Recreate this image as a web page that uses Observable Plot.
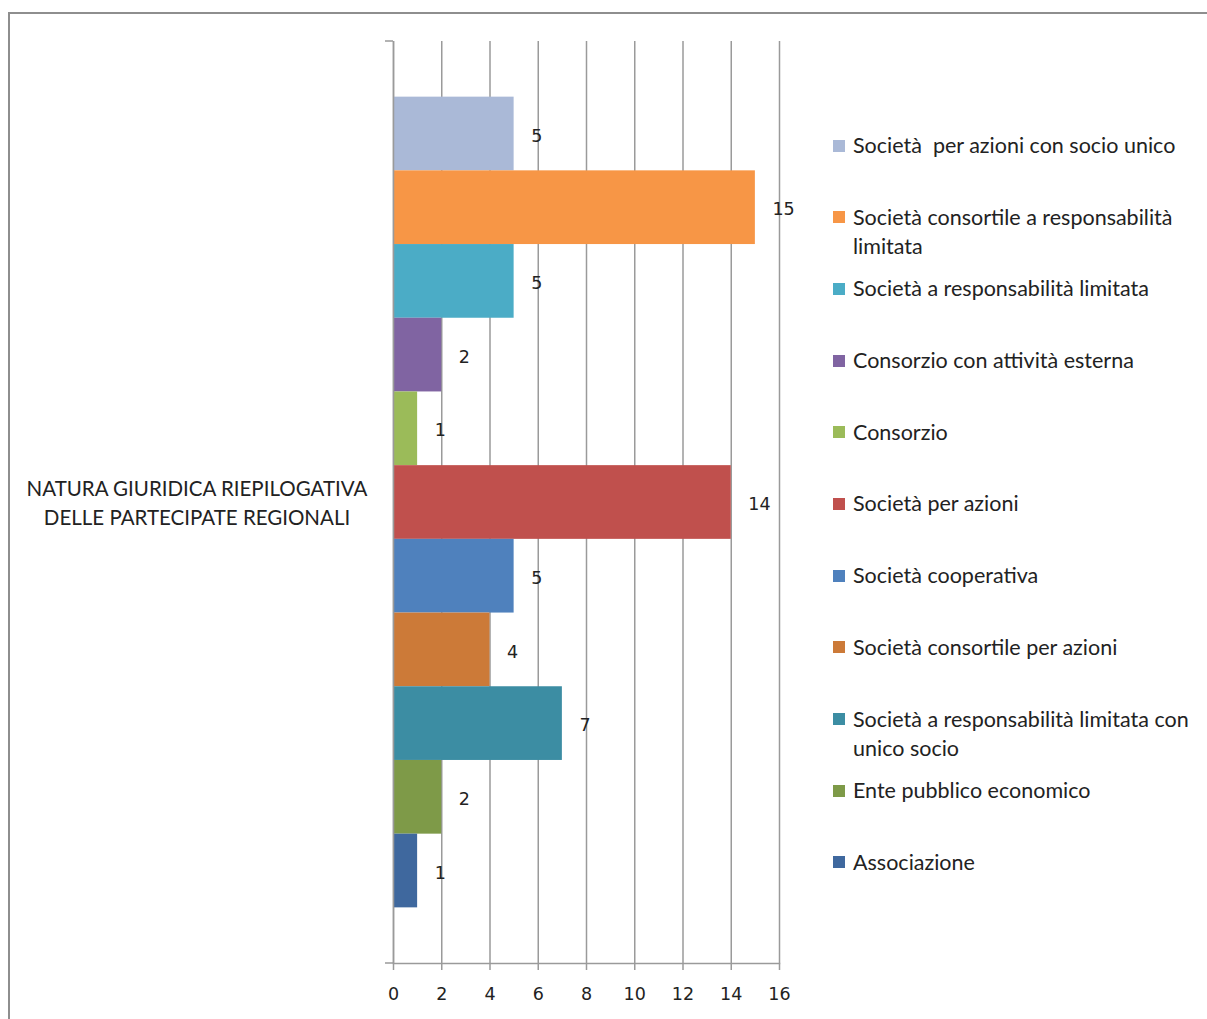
<!DOCTYPE html>
<html>
<head>
<meta charset="utf-8">
<script src="https://cdn.jsdelivr.net/npm/d3@7"></script>
<script src="https://cdn.jsdelivr.net/npm/@observablehq/plot@0.6"></script>
<style>
  html, body { margin: 0; padding: 0; background: #fff; overflow: hidden; }
  #wrap { position: relative; width: 1207px; height: 1019px; overflow: hidden; }
  #frame { position: absolute; left: 8px; top: 12px; width: 1207px; height: 1019px;
           border-top: 2px solid #8e8e8e; border-left: 2px solid #8e8e8e; box-sizing: border-box; }
  #chart { position: absolute; left: 0; top: 0; }
  #cat { position: absolute; left: 17px; top: 474px; width: 360px; text-align: center;
         font-family: Lato, sans-serif; font-size: 20.5px; line-height: 29px; color: #222; }
  #legend { position: absolute; left: 833px; top: 131px; width: 374px;
            font-family: Lato, sans-serif; font-size: 21.5px; line-height: 29px; color: #222; }
  .item { position: relative; height: 71.7px; padding-left: 20px; box-sizing: border-box; white-space: pre-wrap; }
  .sw { position: absolute; left: 0; top: 8.5px; width: 12px; height: 12px; }
</style>
</head>
<body>
<div id="wrap">
  <div id="frame"></div>
  <div id="chart"></div>
  <div id="cat"></div>
  <div id="legend"></div>
</div>
<script>
const categoryLabel = ["NATURA GIURIDICA RIEPILOGATIVA", "DELLE PARTECIPATE REGIONALI"];
const series = [
  "Società  per azioni con socio unico",
  "Società consortile a responsabilità limitata",
  "Società a responsabilità limitata",
  "Consorzio con attività esterna",
  "Consorzio",
  "Società per azioni",
  "Società cooperativa",
  "Società consortile per azioni",
  "Società a responsabilità limitata con unico socio",
  "Ente pubblico economico",
  "Associazione"
];
const values = [5, 15, 5, 2, 1, 14, 5, 4, 7, 2, 1];
const colors = ["#AAB9D7", "#F79646", "#4BACC6", "#8064A2", "#9BBB59", "#C0504D",
                "#4F81BD", "#CC7A38", "#3C8DA3", "#7E9A48", "#3F689E"];
const xTicks = [0, 2, 4, 6, 8, 10, 12, 14, 16];

const data = series.map((s, i) => ({series: s, value: values[i]}));
const axisColor = "#9a9a9a";

const catTicks = (index, scales, vals, dims) => {
  const g = d3.create("svg:g").attr("stroke", axisColor).attr("stroke-width", 1.5);
  const x0 = dims.marginLeft;
  [dims.marginTop, dims.height - dims.marginBottom].forEach(y => {
    g.append("line").attr("x1", x0 - 8).attr("x2", x0).attr("y1", y).attr("y2", y);
  });
  return g.node();
};

const chart = Plot.plot({
  width: 1207,
  height: 1019,
  marginLeft: 393,
  marginRight: 428,
  marginTop: 41,
  marginBottom: 56,
  x: {domain: [0, 16], label: null},
  y: {domain: series, axis: null, paddingInner: 0, paddingOuter: 0.755, round: false},
  color: {domain: series, range: colors},
  style: {background: "transparent", fontFamily: "DejaVu Sans, sans-serif", color: "#222"},
  marks: [
    Plot.gridX(xTicks, {stroke: axisColor, strokeOpacity: 1, strokeWidth: 1.5}),
    Plot.barX(data, {x: "value", y: "series", fill: "series"}),
    Plot.ruleX([0], {stroke: axisColor, strokeWidth: 1.5}),
    Plot.frame({anchor: "bottom", stroke: axisColor, strokeWidth: 1.5}),
    Plot.axisX(xTicks, {anchor: "bottom", tickSize: 7, tickPadding: 17, stroke: axisColor,
                        strokeWidth: 1.5, fontSize: 17.5, label: null, fill: "#222"}),
    Plot.text(data, {x: "value", y: "series", text: d => String(d.value), dx: 17, dy: 2,
                     textAnchor: "start", fontSize: 17.5, fill: "#222"}),
    catTicks
  ]
});
document.getElementById("chart").appendChild(chart);

document.getElementById("cat").innerHTML = categoryLabel.join("<br>");

const legend = document.getElementById("legend");
series.forEach((s, i) => {
  const item = document.createElement("div");
  item.className = "item";
  const sw = document.createElement("div");
  sw.className = "sw";
  sw.style.background = colors[i];
  item.appendChild(sw);
  const t = document.createElement("span");
  t.textContent = s;
  item.appendChild(t);
  legend.appendChild(item);
});
</script>
</body>
</html>
